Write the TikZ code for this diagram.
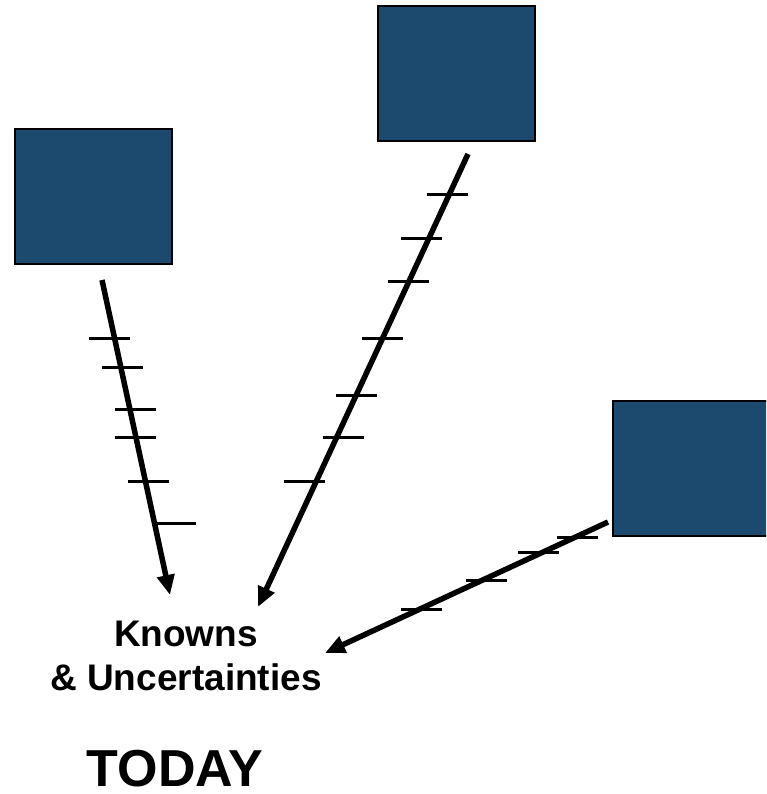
\documentclass[tikz,border=0pt]{standalone}
\usepackage{fontspec}
\setmainfont{Liberation Sans}
\usetikzlibrary{arrows.meta}
\definecolor{boxblue}{RGB}{27,74,110}

\tikzset{
  future/.style={draw=black, line width=2pt, fill=boxblue, minimum width=157pt, minimum height=135pt, inner sep=0pt},
  path line/.style={line width=5.5pt, -{Triangle[length=20pt,width=17pt]}},
  tickmark/.style={line width=3pt},
  label text/.style={font=\bfseries\fontsize{37}{44}\selectfont, align=center, anchor=base}
}

\begin{document}
\begin{tikzpicture}[x=1pt, y=-1pt]
  \useasboundingbox (0,0) rectangle (766,794);
  \clip (0,0) rectangle (766,794);

  % the three futures
  \node[future] (fut1) at (93.5,196.5) {};
  \node[future] (fut2) at (456.5,73.5) {};
  \node[future] (fut3) at (691.5,468.5) {};

  % today
  \node[label text] (known) at (186,690) {Knowns\\\& Uncertainties};
  \node[font=\bfseries\fontsize{52}{62}\selectfont, anchor=base, inner sep=0pt] (today) at (175,786) {TODAY};

  \coordinate (s1) at (102,280);
  \coordinate (s2) at (468,154);
  \coordinate (s3) at (608,522);
  \coordinate (e1) at (170,595);
  \coordinate (e2) at (258,607);
  \coordinate (e3) at (325,653);

  \draw[path line] (s1) -- (e1);
  \draw[path line] (s2) -- (e2);
  \draw[path line] (s3) -- (e3);

  % tick marks
  \foreach \y/\xa in {338/89, 367/102, 409/115, 437/115, 481/128, 523/155}
    \draw[tickmark] (\xa,\y) -- ++(41,0);
  \foreach \y/\xa in {195/427, 238/401, 281/388, 338/362, 395/336, 437/323, 481/284}
    \draw[tickmark] (\xa,\y) -- ++(41,0);
  \foreach \y/\xa in {537/557, 552/518, 580/466, 609/401}
    \draw[tickmark] (\xa,\y) -- ++(41,0);
\end{tikzpicture}
\end{document}
